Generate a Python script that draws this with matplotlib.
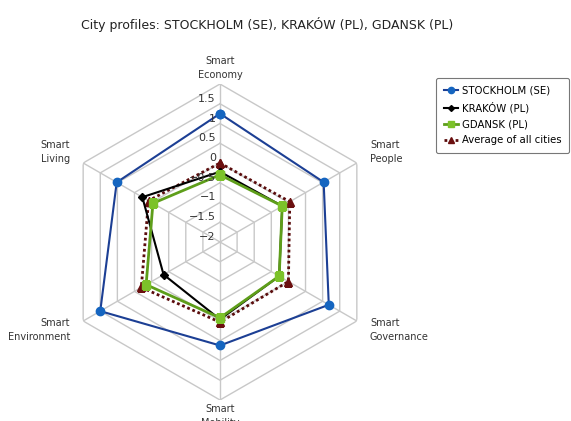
import numpy as np
import matplotlib
matplotlib.use("Agg")
import matplotlib.pyplot as plt

# dati
categorie = ["Smart\nEconomy", "Smart\nPeople", "Smart\nGovernance",
             "Smart\nMobility", "Smart\nEnvironment", "Smart\nLiving"]
stockholm = [1.25, 1.03, 1.18, 0.62, 1.50, 1.02]
krakow = [-0.22, -0.18, -0.27, -0.04, -0.35, 0.27]
gdansk = [-0.30, -0.18, -0.27, -0.08, 0.16, -0.04]
media = [0.0, 0.04, 0.0, 0.03, 0.30, 0.09]
tick_valori = [1.5, 1, 0.5, 0, -0.5, -1, -1.5, -2]
tick_testi = ["1.5", "1", "0.5", "0", "−0.5", "−1", "−1.5", "−2"]

W, H = 571, 421
fig = plt.figure(figsize=(W / 100, H / 100), dpi=100)
cx, cy, R = 220, 242, 158
ax = fig.add_axes([(cx - R) / W, (H - cy - R) / H, 2 * R / W, 2 * R / H],
                  projection="polar")
ax.set_theta_offset(np.pi / 2)
ax.set_theta_direction(-1)
ax.set_ylim(-2, 2)
ax.grid(False)
ax.set_xticks([])
ax.set_yticks([])
ax.spines["polar"].set_visible(False)
ax.patch.set_alpha(0)

n = len(categorie)
ang = np.linspace(0, 2 * np.pi, n, endpoint=False)
ang_c = np.append(ang, ang[0])

# griglia esagonale
for r in np.arange(-1.5, 2.01, 0.5):
    ax.plot(ang_c, [r] * (n + 1), color="#c8c8c8", lw=1, zorder=1)
for a in ang:
    ax.plot([a, a], [-2, 2], color="#c8c8c8", lw=1, zorder=1)

def chiudi(v):
    return list(v) + [v[0]]

ax.plot(ang_c, chiudi(media), color="#5a0c0c", lw=2, ls=(0, (1, 1)),
        marker="^", ms=6, mfc="#6b0f0f", mec="#6b0f0f", zorder=3,
        label="Average of all cities")
ax.plot(ang_c, chiudi(stockholm), color="#1c3f94", lw=1.5, marker="o", ms=6,
        mfc="#1565c0", mec="#1565c0", zorder=4, label="STOCKHOLM (SE)")
ax.plot(ang_c, chiudi(krakow), color="black", lw=1.5, marker="D", ms=4,
        zorder=4, label="KRAKÓW (PL)")
ax.plot(ang_c, chiudi(gdansk), color="#5e9e1a", lw=2, marker="s", ms=6,
        mfc="#7cc22a", mec="#7cc22a", zorder=5, label="GDANSK (PL)")

# etichette dei valori sull'asse verticale
for v, t in zip(tick_valori, tick_testi):
    ax.annotate(t, xy=(0, v), xytext=(-3, 0), textcoords="offset points",
                ha="right", va="bottom", fontsize=8, color="#333333", zorder=6)

# etichette categorie
pos = [(220, 68, "center"), (370, 152, "left"), (370, 330, "left"),
       (220, 416, "center"), (70, 330, "right"), (70, 152, "right")]
for c, (px, py, al) in zip(categorie, pos):
    fig.text(px / W, 1 - py / H, c, ha=al, va="center", fontsize=7,
             color="#333333", linespacing=1.45)

fig.text(267 / W, 1 - 24 / H, "City profiles: STOCKHOLM (SE), KRAKÓW (PL), GDANSK (PL)",
         ha="center", va="center", fontsize=9, color="#222222")

h, l = ax.get_legend_handles_labels()
ordine = [1, 2, 3, 0]
leg = fig.legend([h[i] for i in ordine], [l[i] for i in ordine],
                 loc="upper left", bbox_to_anchor=(436 / W, 1 - 78 / H),
                 fontsize=7.3, frameon=True, handlelength=1.4,
                 borderpad=0.75, labelspacing=0.6, handletextpad=0.4,
                 borderaxespad=0, fancybox=True, markerscale=0.75)
leg.get_frame().set_edgecolor("#555555")
leg.get_frame().set_linewidth(0.8)

fig.savefig("out.png", dpi=100)
